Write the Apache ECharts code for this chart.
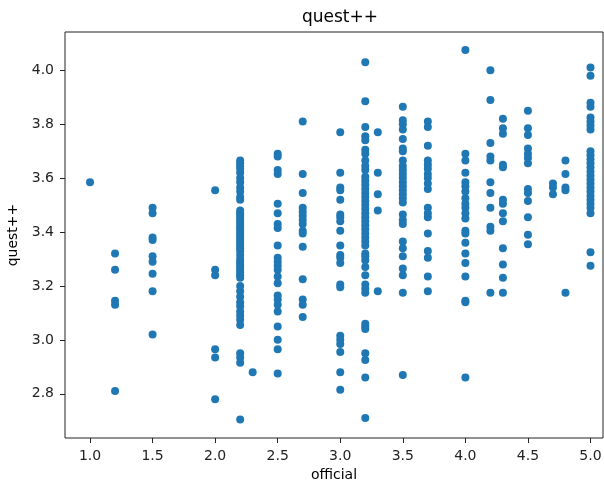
<!DOCTYPE html>
<html>
<head>
<meta charset="utf-8">
<script src="https://cdn.jsdelivr.net/npm/echarts@6/dist/echarts.min.js"></script>
<style>
  html, body { margin: 0; padding: 0; background: #fff; }
  #main { width: 604px; height: 482px; }
</style>
</head>
<body>
<div id="main"></div>
<script>
// official score -> list of quest++ scores
const officialValues = [1.0, 1.2, 1.5, 2.0, 2.2, 2.3, 2.5, 2.7, 3.0, 3.2, 3.3, 3.5, 3.7, 4.0, 4.2, 4.3, 4.5, 4.7, 4.8, 5.0]

const q10 = [3.585]
const q12 = [3.32, 3.26, 3.145, 3.13, 2.81]
const q15 = [3.49, 3.47, 3.38, 3.37, 3.31, 3.29, 3.245, 3.18, 3.02]
const q20 = [3.555, 3.26, 3.24, 2.965, 2.935, 2.78]
const q22 = [3.665, 3.655, 3.645, 3.635, 3.62, 3.60, 3.585, 3.565, 3.55, 3.53, 3.52, 3.48, 3.47, 3.46, 3.45,
  3.44, 3.43, 3.42, 3.41, 3.40, 3.39, 3.38, 3.37, 3.36, 3.35, 3.34, 3.33, 3.315, 3.30, 3.29, 3.28, 3.27,
  3.26, 3.25, 3.24, 3.23, 3.20, 3.18, 3.16, 3.14, 3.125, 3.105, 3.09, 3.075, 3.055, 2.95, 2.935, 2.915, 2.705]
const q23 = [2.88]
const q25 = [3.69, 3.68, 3.63, 3.615, 3.505, 3.47, 3.43, 3.415, 3.35, 3.305, 3.29, 3.275, 3.26, 3.235, 3.21,
  3.165, 3.15, 3.13, 3.105, 3.05, 3.0, 2.965, 2.875]
const q27 = [3.81, 3.615, 3.545, 3.49, 3.475, 3.46, 3.445, 3.43, 3.405, 3.395, 3.345, 3.225, 3.15, 3.13, 3.085]
const q30 = [3.77, 3.62, 3.565, 3.555, 3.52, 3.465, 3.455, 3.44, 3.405, 3.35, 3.315, 3.305, 3.285, 3.205,
  3.195, 3.015, 3.0, 2.985, 2.955, 2.88, 2.815]
const q32 = [4.03, 3.885, 3.79, 3.755, 3.74, 3.705, 3.69, 3.665, 3.645, 3.63, 3.605, 3.59, 3.575, 3.56, 3.545,
  3.53, 3.515, 3.50, 3.485, 3.47, 3.455, 3.44, 3.425, 3.41, 3.395, 3.38, 3.365, 3.35, 3.32, 3.31, 3.295,
  3.27, 3.24, 3.205, 3.19, 3.175, 3.06, 3.05, 3.04, 2.95, 2.925, 2.86, 2.71]
const q33 = [3.77, 3.62, 3.54, 3.48, 3.18]
const q35 = [3.865, 3.815, 3.80, 3.78, 3.745, 3.71, 3.70, 3.665, 3.645, 3.63, 3.615, 3.60, 3.585, 3.57, 3.555,
  3.54, 3.525, 3.51, 3.465, 3.445, 3.43, 3.365, 3.34, 3.31, 3.265, 3.24, 3.175, 2.87]
const q37 = [3.81, 3.79, 3.72, 3.665, 3.65, 3.635, 3.615, 3.6, 3.58, 3.56, 3.49, 3.47, 3.455, 3.395, 3.33,
  3.305, 3.235, 3.18]
const q40 = [4.075, 3.69, 3.665, 3.62, 3.585, 3.57, 3.55, 3.525, 3.505, 3.49, 3.47, 3.45, 3.405, 3.395, 3.36,
  3.32, 3.285, 3.235, 3.145, 3.14, 2.86]
const q42 = [4.0, 3.89, 3.73, 3.68, 3.665, 3.585, 3.545, 3.49, 3.42, 3.405, 3.175]
const q43 = [3.82, 3.785, 3.765, 3.65, 3.64, 3.52, 3.505, 3.47, 3.44, 3.34, 3.28, 3.23, 3.175]
const q45 = [3.85, 3.785, 3.76, 3.71, 3.69, 3.675, 3.655, 3.56, 3.545, 3.515, 3.455, 3.39, 3.355]
const q47 = [3.58, 3.565, 3.54]
const q48 = [3.665, 3.615, 3.565, 3.555, 3.175]
const q50 = [4.01, 3.98, 3.88, 3.865, 3.825, 3.81, 3.795, 3.78, 3.70, 3.685, 3.67, 3.655, 3.64, 3.625, 3.61,
  3.595, 3.58, 3.565, 3.55, 3.535, 3.52, 3.505, 3.49, 3.47, 3.325, 3.275]

const questColumns = [q10, q12, q15, q20, q22, q23, q25, q27, q30, q32, q33, q35, q37, q40, q42, q43, q45, q47, q48, q50]

// tick positions
const xTicks = [1.0, 1.5, 2.0, 2.5, 3.0, 3.5, 4.0, 4.5, 5.0]
const yTicks = [2.8, 3.0, 3.2, 3.4, 3.6, 3.8, 4.0]

const points = []
officialValues.forEach((x, i) => {
  questColumns[i].forEach(y => points.push([x, y]))
})

const font = 'DejaVu Sans'

var chartDom = document.getElementById('main');
var myChart = echarts.init(chartDom);
var option = {
  animation: false,
  title: {
    text: 'quest++',
    left: 335,
    top: 4,
    textAlign: 'center',
    textStyle: { fontFamily: font, fontSize: 17, fontWeight: 'normal', color: '#000' }
  },
  grid: {
    left: 65,
    top: 32,
    right: 1,
    height: 406,
    containLabel: false,
    outerBoundsMode: 'none',
    show: true,
    borderColor: '#222',
    borderWidth: 1
  },
  xAxis: {
    type: 'value',
    min: 0.8,
    max: 5.1,
    name: 'official',
    nameLocation: 'middle',
    nameGap: 30,
    nameTextStyle: { fontFamily: font, fontSize: 14, color: '#000' },
    axisLine: { show: false },
    axisTick: { show: true, length: 5, customValues: xTicks, lineStyle: { color: '#222' } },
    splitLine: { show: false },
    axisLabel: {
      fontFamily: font, fontSize: 14, color: '#222', margin: 11,
      customValues: xTicks,
      formatter: v => v.toFixed(1)
    }
  },
  yAxis: {
    type: 'value',
    min: 2.636,
    max: 4.142,
    name: 'quest++',
    nameLocation: 'middle',
    nameGap: 42,
    nameTextStyle: { fontFamily: font, fontSize: 14, color: '#000' },
    axisLine: { show: false },
    axisTick: { show: true, length: 5, customValues: yTicks, lineStyle: { color: '#222' } },
    splitLine: { show: false },
    axisLabel: {
      fontFamily: font, fontSize: 14, color: '#222', margin: 11,
      customValues: yTicks,
      formatter: v => v.toFixed(1)
    }
  },
  series: [
    {
      type: 'scatter',
      data: points,
      symbolSize: 8,
      itemStyle: { color: '#1f77b4', opacity: 1 }
    }
  ]
};
option && myChart.setOption(option);
</script>
</body>
</html>
